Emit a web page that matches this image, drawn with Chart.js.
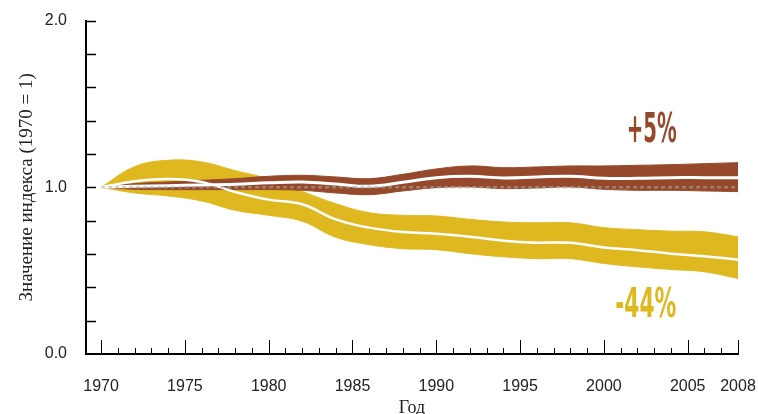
<!DOCTYPE html>
<html><head><meta charset="utf-8">
<script src="https://cdn.jsdelivr.net/npm/chart.js@4.4.0/dist/chart.umd.min.js"></script>
<style>html,body{margin:0;padding:0;background:#fff}#wrap{width:758px;height:414px}</style>
</head><body><div id="wrap"><canvas id="c" width="758" height="414"></canvas></div>
<script>
// ---- data ----
const years      = [1970,1972,1974,1976,1978,1980,1982,1984,1986,1988,1990,1992,1994,1996,1998,2000,2002,2004,2006,2008];
const brownUpper = [1.000,1.022,1.032,1.042,1.052,1.066,1.072,1.062,1.052,1.078,1.110,1.128,1.118,1.122,1.128,1.128,1.132,1.136,1.142,1.148];
const brownMid   = [1.000,1.006,1.010,1.014,1.018,1.027,1.032,1.020,1.006,1.030,1.058,1.066,1.056,1.062,1.066,1.054,1.054,1.058,1.058,1.058];
const brownLower = [1.000,0.988,0.986,0.986,0.986,0.986,0.982,0.966,0.956,0.978,0.998,1.002,0.992,0.996,1.002,0.988,0.982,0.982,0.978,0.974];
const goldUpper  = [1.000,1.124,1.162,1.152,1.100,1.050,0.975,0.902,0.848,0.832,0.828,0.808,0.792,0.787,0.787,0.758,0.746,0.737,0.733,0.703];
const goldMid    = [1.000,1.036,1.050,1.032,0.972,0.926,0.898,0.808,0.758,0.732,0.722,0.704,0.680,0.668,0.667,0.639,0.623,0.602,0.587,0.566];
const goldLower  = [1.000,0.966,0.948,0.918,0.862,0.832,0.796,0.700,0.656,0.632,0.626,0.602,0.583,0.572,0.572,0.543,0.523,0.507,0.493,0.453];
const baseYears  = [1970,2008];
const baseValues = [1,1];
const xTickLabels = [1970,1975,1980,1985,1990,1995,2000,2005,2008];
const yTickLabels = [0,1,2];
const yMinorTicks = [0.2,0.4,0.6,0.8,1.0,1.2,1.4,1.6,1.8,2.0];
const yTitle = 'Значение индекса (1970 = 1)';
const xTitle = 'Год';
const brownLabel = '+5%';
const goldLabel = '-44%';

const BROWN = '#96492a';
const GOLD = '#dfb820';
const pts = (xs, ys) => xs.map((x, i) => ({x, y: ys[i]}));

const band = (vals, color, fill) => ({
  data: pts(years, vals), borderColor: color, backgroundColor: color,
  borderWidth: 1, pointRadius: 0, fill: fill, tension: 0.4
});
const mid = (vals, w) => ({
  data: pts(years, vals), borderColor: '#ffffff', borderWidth: w,
  pointRadius: 0, fill: false, tension: 0.4
});

const marksPlugin = {
  id: 'marks',
  afterDraw(chart) {
    const ctx = chart.ctx, xs = chart.scales.x, ys = chart.scales.y;
    const x0 = xs.left, y0 = ys.bottom;
    ctx.save();
    ctx.strokeStyle = '#000';
    ctx.lineWidth = 1.5;
    yMinorTicks.forEach(v => {
      const y = Math.round(ys.getPixelForValue(v)) + 0.5;
      ctx.beginPath(); ctx.moveTo(x0, y); ctx.lineTo(x0 + 10, y); ctx.stroke();
    });
    ctx.lineWidth = 1;
    for (let yr = 1970; yr <= 2008; yr++) {
      const major = xTickLabels.includes(yr);
      const x = Math.round(xs.getPixelForValue(yr)) + 0.5;
      ctx.beginPath(); ctx.moveTo(x, y0); ctx.lineTo(x, y0 - (major ? 14 : 6)); ctx.stroke();
    }
    // annotations
    const lab = (txt, xv, yv, color, targetW) => {
      ctx.save();
      ctx.font = 'bold 41px "Liberation Sans Narrow", "DejaVu Sans Condensed", "Liberation Sans", sans-serif';
      const w = ctx.measureText(txt).width;
      ctx.translate(xs.getPixelForValue(xv), ys.getPixelForValue(yv));
      ctx.scale(targetW / w, 1);
      ctx.fillStyle = color;
      ctx.textAlign = 'center';
      ctx.textBaseline = 'alphabetic';
      ctx.fillText(txt, 0, 0);
      ctx.restore();
    };
    lab(brownLabel, 2002.85, 1.27, BROWN, 50);
    lab(goldLabel, 2002.5, 0.222, GOLD, 61);
    ctx.restore();
  }
};

new Chart(document.getElementById('c'), {
  type: 'line',
  data: {
    datasets: [
      { data: pts(baseYears, baseValues), borderColor: 'rgba(170,170,170,0.55)', borderWidth: 2.5,
        borderDash: [4, 3], pointRadius: 0, fill: false },
      mid(goldMid, 2.5),
      mid(brownMid, 3),
      band(brownUpper, BROWN, '+1'),
      band(brownLower, BROWN, false),
      band(goldUpper, GOLD, '+1'),
      band(goldLower, GOLD, false)
    ]
  },
  options: {
    responsive: false, animation: false, devicePixelRatio: 1,
    layout: { padding: { top: 12, right: 20, left: 0, bottom: 0 } },
    plugins: { legend: { display: false }, tooltip: { enabled: false } },
    scales: {
      x: {
        type: 'linear', min: 1969.1, max: 2008,
        afterBuildTicks: s => { s.ticks = xTickLabels.map(v => ({value: v})); },
        afterFit: s => { s.height = 60; s.paddingRight = 0; s.paddingLeft = 0; },
        grid: { display: false },
        border: { display: true, color: '#000', width: 2 },
        ticks: { autoSkip: false, maxRotation: 0, padding: 15, color: '#222',
          font: { family: '"Liberation Sans", Arial, sans-serif', size: 16 },
          callback: v => String(v) },
        title: { display: true, text: xTitle, color: '#222', padding: { top: 0, bottom: -5 },
          font: { family: '"Liberation Serif", "Times New Roman", serif', size: 18 } }
      },
      y: {
        min: 0, max: 2,
        afterBuildTicks: s => { s.ticks = yTickLabels.map(v => ({value: v})); },
        afterFit: s => { s.width = 86; },
        grid: { display: false },
        border: { display: true, color: '#000', width: 2 },
        ticks: { padding: 11, color: '#222',
          font: { family: '"Liberation Sans", Arial, sans-serif', size: 16 },
          callback: v => Number(v).toFixed(1) },
        title: { display: true, text: yTitle, color: '#222', padding: { top: 16, bottom: 0 },
          font: { family: '"Liberation Serif", "Times New Roman", serif', size: 19 } }
      }
    }
  },
  plugins: [marksPlugin]
});
</script>
</body></html>
